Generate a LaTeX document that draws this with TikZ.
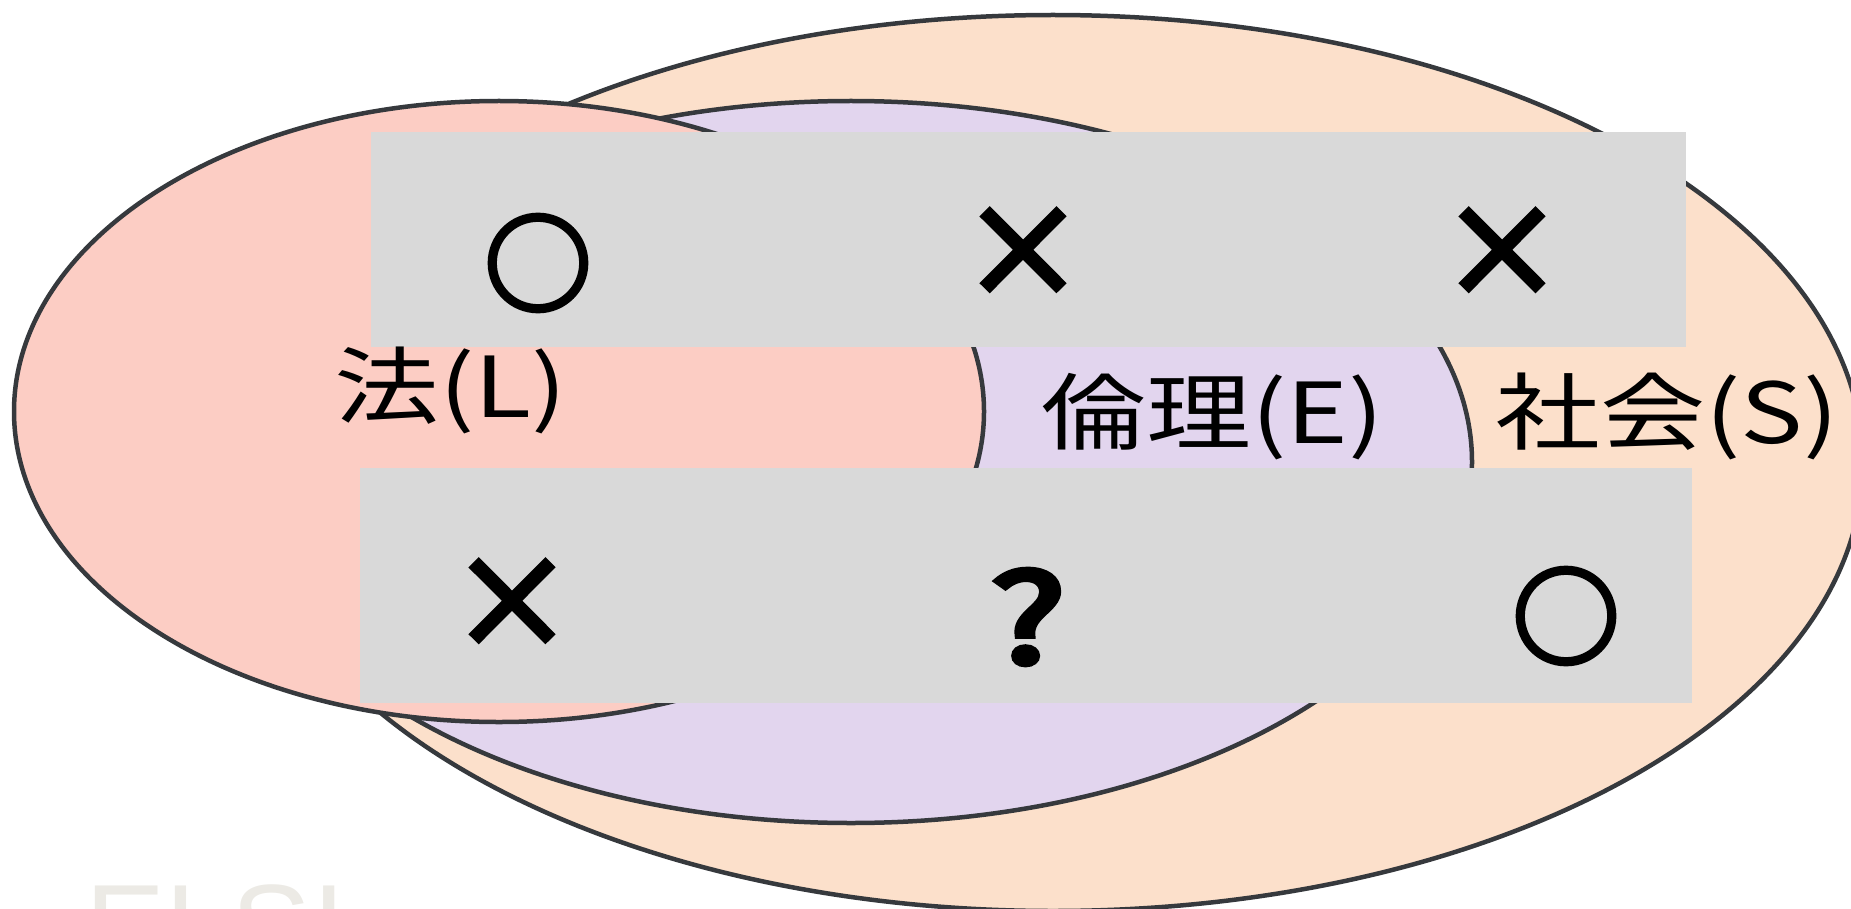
\documentclass[tikz,border=0pt]{standalone}
\usepackage{fontspec}
\usetikzlibrary{shapes.geometric}
\newfontfamily\jp{Noto Sans CJK JP}
\newfontfamily\symfont[FakeBold=5]{Noto Sans CJK JP}
\newfontfamily\wmfont{Liberation Sans}
\definecolor{orangefill}{HTML}{FCE0CB}
\definecolor{purplefill}{HTML}{E2D5EE}
\definecolor{pinkfill}{HTML}{FCCDC4}
\definecolor{boxgray}{HTML}{D9D9D9}
\definecolor{edgecol}{HTML}{36393D}
\definecolor{wmcol}{HTML}{ECEAE5}
\begin{document}
\begin{tikzpicture}[x=1pt,y=-1pt,
  area/.style={ellipse, draw=edgecol, line width=4.5pt, inner sep=0pt, outer sep=0pt},
  band/.style={fill=boxgray, draw=none, inner sep=0pt, outer sep=0pt, anchor=north west},
  lbl/.style={inner sep=0pt, outer sep=0pt, font=\jp\fontsize{84}{90}\selectfont, text=black},
  osym/.style={inner sep=0pt, outer sep=0pt, font=\symfont\fontsize{106}{110}\selectfont, text=black},
  xsym/.style={inner sep=0pt, outer sep=0pt, font=\symfont\fontsize{122}{125}\selectfont, text=black}]
\useasboundingbox (0,0) rectangle (1851,909);
% watermark
\node[inner sep=0pt, anchor=base west, text=wmcol, font=\wmfont\fontsize{120}{120}\selectfont] (elsi) at (85,968) {ELSI};
% circles
\node[area, fill=orangefill, minimum width=1620pt, minimum height=896pt] (S) at (1053,463) {};
\node[area, fill=purplefill, minimum width=1242pt, minimum height=722pt] (E) at (851,462) {};
\node[area, fill=pinkfill, minimum width=970pt, minimum height=621pt] (L) at (499,411.5) {};
% bands
\node[band, minimum width=1315pt, minimum height=215pt] (top) at (371,132) {};
\node[band, minimum width=1332pt, minimum height=235pt] (bot) at (360,468) {};
% labels
\node[lbl, anchor=base west] (lL) at (334,417) {\scalebox{1.25}[1]{法(L)}};
\node[lbl, anchor=base east] (lE) at (1384,443) {\scalebox{1.25}[1]{倫理(E)}};
\node[lbl, anchor=base west] (lS) at (1495,443) {\scalebox{1.25}[1]{社会(S)}};
% symbols
\node[osym] (t1) at (538,263) {○};
\node[xsym] (t2) at (1023,253) {×};
\node[xsym] (t3) at (1502,253) {×};
\node[xsym] (b1) at (512,604) {×};
\node[xsym] (b2) at (1028,617) {\scalebox{1.3}[1]{?}};
\node[osym] (b3) at (1566,616) {○};
\end{tikzpicture}
\end{document}
